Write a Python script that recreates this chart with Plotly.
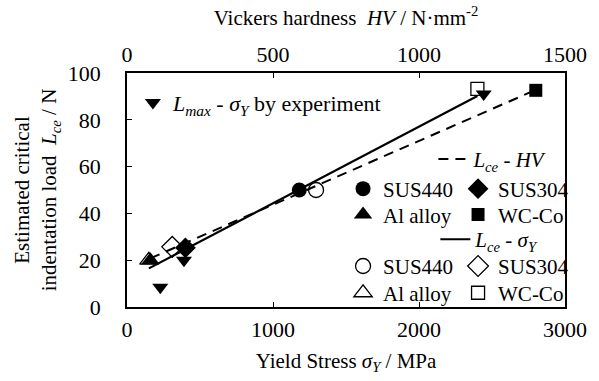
import plotly.graph_objects as go

FONT = "'Liberation Serif', 'Times New Roman', Times, serif"

# Materials and their marker symbols
materials = ["SUS440", "SUS304", "Al alloy", "WC-Co"]
filled_symbols = ["circle", "diamond", "triangle-up", "square"]
open_symbols = ["circle-open", "diamond-open", "triangle-up-open", "square-open"]

# Estimated critical load vs Vickers hardness (top axis)
hv = [590, 200, 80, 1400]
lce_hv = [50.0, 25.3, 20.0, 92.6]

# Estimated critical load vs yield stress (bottom axis)
sigma_y = [1295, 310, 150, 2400]
lce_sigma = [50.0, 25.7, 20.0, 93.2]

# Linear relations drawn as lines
hv_line = [80, 1400]
lce_hv_line = [20.8, 92.8]
sigma_line = [150, 2400]
lce_sigma_line = [16.5, 90.2]

# Maximum load measured by experiment
sigma_exp = [228, 390, 2443]
lmax_exp = [8.4, 20.0, 91.0]

marker_sizes = {"circle": 15, "diamond": 16, "triangle-up": 16, "square": 13}

# Plot-area geometry in pixels (for placing legends)
W, H = 599, 381
L_M, R_M, T_M, B_M = 127, 26, 73, 72
PW, PH = W - L_M - R_M, H - T_M - B_M


def px(xp):
    return (xp - L_M) / PW


def py(yp):
    return (H - B_M - yp) / PH


fig = go.Figure()

# Lines
fig.add_trace(go.Scatter(
    x=hv_line, y=lce_hv_line, xaxis="x2", mode="lines",
    line=dict(color="black", width=2, dash="10px,7px"),
    name="<i>L<sub>ce</sub></i> - <i>HV</i>", legend="legend2"))
fig.add_trace(go.Scatter(
    x=sigma_line, y=lce_sigma_line, mode="lines",
    line=dict(color="black", width=2.2),
    name="<i>L<sub>ce</sub></i> - <i>σ<sub>Y</sub></i>", legend="legend5"))

# Open markers (yield stress)
for i, m in enumerate(materials):
    fig.add_trace(go.Scatter(
        x=[sigma_y[i]], y=[lce_sigma[i]], mode="markers", name=m,
        marker=dict(symbol=open_symbols[i], size=marker_sizes[filled_symbols[i]],
                    color="black", line=dict(width=1.3, color="black")),
        legend="legend6" if i < 2 else "legend7"))

# Filled markers (Vickers hardness)
for i, m in enumerate(materials):
    fig.add_trace(go.Scatter(
        x=[hv[i]], y=[lce_hv[i]], xaxis="x2", mode="markers", name=m,
        marker=dict(symbol=filled_symbols[i], size=marker_sizes[filled_symbols[i]],
                    color="black"),
        legend="legend3" if i < 2 else "legend4"))

# Experiment
fig.add_trace(go.Scatter(
    x=sigma_exp, y=lmax_exp, mode="markers",
    marker=dict(symbol="triangle-down", size=14, color="black"),
    name="<i>L<sub>max</sub></i> - <i>σ<sub>Y</sub></i> by experiment",
    legend="legend"))


def legend_at(x_px, y_px, horizontal=False, size=21):
    d = dict(x=px(x_px), y=py(y_px), xanchor="left", yanchor="middle",
             bgcolor="rgba(0,0,0,0)",
             font=dict(family=FONT, size=size, color="black"),
             itemwidth=30, tracegroupgap=0)
    if horizontal:
        d.update(orientation="h", entrywidth=70, entrywidthmode="pixels")
    return d


axis_common = dict(showline=True, linecolor="black", linewidth=1.5,
                   ticks="inside", ticklen=5, tickcolor="black", tickwidth=1,
                   showgrid=False, zeroline=False,
                   tickfont=dict(family=FONT, size=22, color="black"))

fig.update_layout(
    width=W, height=H,
    margin=dict(l=L_M, r=R_M, t=T_M, b=B_M),
    paper_bgcolor="white", plot_bgcolor="white",
    font=dict(family=FONT, size=21, color="black"),
    xaxis=dict(range=[0, 3000], dtick=1000, **axis_common,
               ticklabelstandoff=2,
               title=dict(text="Yield Stress <i>σ<sub>Y</sub></i> / MPa",
                          font=dict(family=FONT, size=21), standoff=12)),
    xaxis2=dict(range=[0, 1500], dtick=500, overlaying="x", side="top",
                **axis_common,
                title=dict(text="Vickers hardness  <i>HV</i> / N·mm<sup>-2</sup>",
                           font=dict(family=FONT, size=21), standoff=11)),
    yaxis=dict(range=[0, 100], dtick=20, mirror=True, **axis_common,
               ticklabelstandoff=20,
               title=dict(text="Estimated critical<br>indentation load  <i>L<sub>ce</sub></i> / N",
                          font=dict(family=FONT, size=21), standoff=5)),
    showlegend=True,
    legend=legend_at(133, 103, size=22),
    legend2=legend_at(439, 160),
    legend3=legend_at(347, 190, True),
    legend4=legend_at(347, 216, True),
    legend5=legend_at(441, 241),
    legend6=legend_at(347, 268, True),
    legend7=legend_at(347, 295, True),
)

fig.write_html("out.html")
